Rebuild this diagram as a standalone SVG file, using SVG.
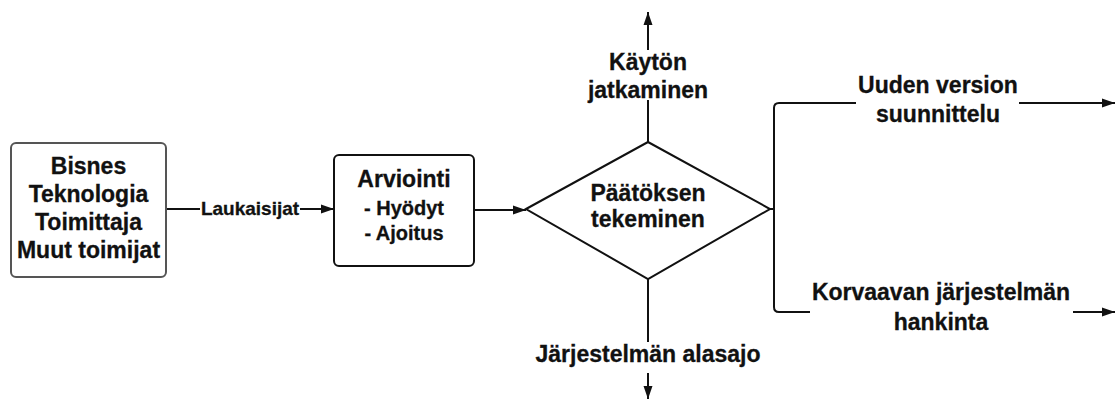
<svg xmlns="http://www.w3.org/2000/svg" width="1115" height="399" viewBox="0 0 1115 399">
  <style>
    .lbl { font-family: "Liberation Sans", Arial, sans-serif; font-weight: bold; fill: #111; text-anchor: middle; stroke: #111; stroke-width: 0.3; }
    .big { font-size: 23px; }
    .mid { font-size: 20px; }
    .sm { font-size: 19px; }
    .edge { fill: none; stroke: #111; stroke-width: 2; }
    .box { fill: #fff; stroke-width: 2; }
  </style>
  <defs>
    <marker id="arrow" viewBox="0 0 13 10" refX="13" refY="5" markerWidth="13" markerHeight="10" markerUnits="userSpaceOnUse" orient="auto">
      <path d="M0,0.5 L13,5 L0,9.5 Z" fill="#111"/>
    </marker>
  </defs>
  <rect width="1115" height="399" fill="#fff"/>

  <!-- connectors -->
  <g id="connectors">
    <path class="edge" d="M166,209 H200"/>
    <path class="edge" d="M300,209 H334" marker-end="url(#arrow)"/>
    <path class="edge" d="M474,210 H526" marker-end="url(#arrow)"/>
    <path class="edge" d="M648,142 V100"/>
    <path class="edge" d="M648,50 V12" marker-end="url(#arrow)"/>
    <path class="edge" d="M648,279 V342"/>
    <path class="edge" d="M648,373 V399" marker-end="url(#arrow)"/>
    <path class="edge" d="M770,209 H774"/>
    <path class="edge" d="M856,103 H779 Q774,103 774,108 V307 Q774,312 779,312 H810"/>
    <path class="edge" d="M1019,103 H1115" marker-end="url(#arrow)"/>
    <path class="edge" d="M1073,312 H1115" marker-end="url(#arrow)"/>
    <text class="lbl sm" x="250" y="215">Laukaisijat</text>
    <text class="lbl big" x="648" y="70">Käytön</text>
    <text class="lbl big" x="648" y="98">jatkaminen</text>
    <text class="lbl big" x="648" y="362">Järjestelmän alasajo</text>
    <text class="lbl big" x="938" y="93">Uuden version</text>
    <text class="lbl big" x="938" y="122">suunnittelu</text>
    <text class="lbl big" x="941" y="300">Korvaavan järjestelmän</text>
    <text class="lbl big" x="941" y="330">hankinta</text>
  </g>

  <!-- source node -->
  <g id="sources">
    <rect class="box" x="11" y="143" width="155" height="134" rx="5" stroke="#555"/>
    <text class="lbl big" x="88.5" y="174">Bisnes</text>
    <text class="lbl big" x="88.5" y="202">Teknologia</text>
    <text class="lbl big" x="88.5" y="230">Toimittaja</text>
    <text class="lbl big" x="88.5" y="258">Muut toimijat</text>
  </g>

  <!-- evaluation node -->
  <g id="arviointi">
    <rect class="box" x="334" y="155" width="140" height="111" rx="5" stroke="#111"/>
    <text class="lbl big" x="404" y="187">Arviointi</text>
    <text class="lbl mid" x="404" y="215">- Hyödyt</text>
    <text class="lbl mid" x="404" y="240">- Ajoitus</text>
  </g>

  <!-- decision node -->
  <g id="paatos">
    <polygon class="box" points="526,209 648,142 770,209 648,279" stroke="#111"/>
    <text class="lbl big" x="648" y="201">Päätöksen</text>
    <text class="lbl big" x="648" y="227">tekeminen</text>
  </g>
</svg>
